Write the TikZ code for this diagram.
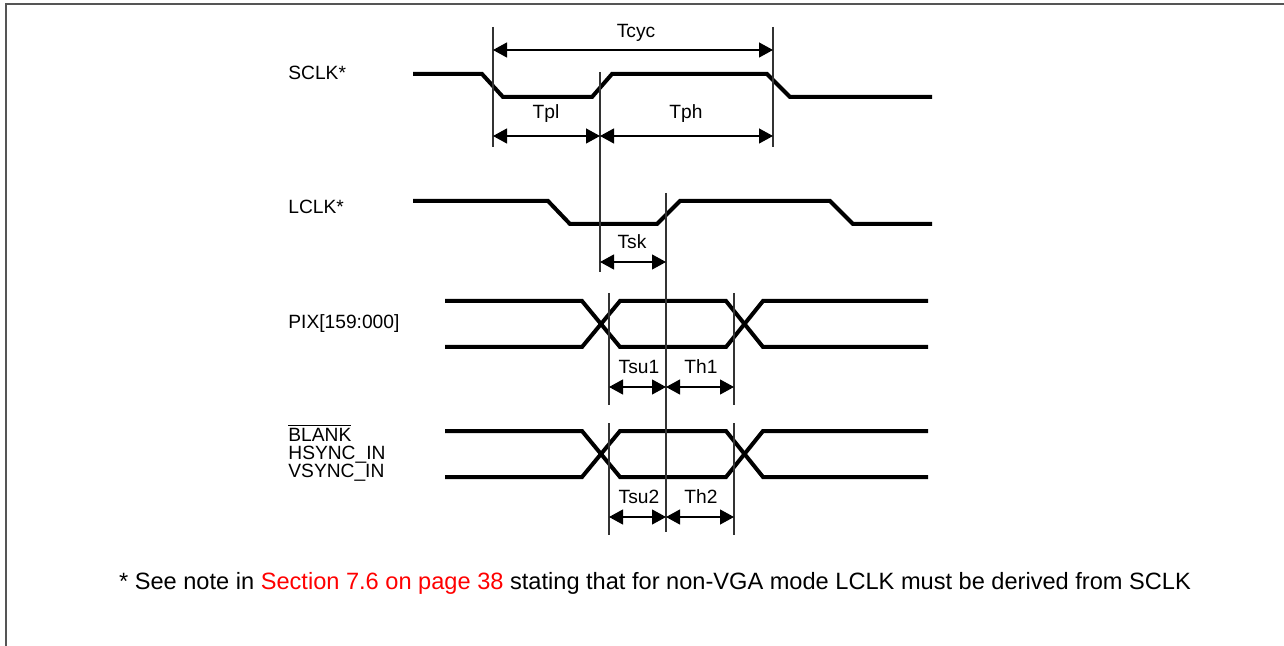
\documentclass[tikz,border=0pt]{standalone}
\usepackage{fontspec}
\setmainfont{Liberation Sans}
\usetikzlibrary{arrows.meta}
\definecolor{framegray}{HTML}{555555}
\definecolor{vgray}{HTML}{333333}
\tikzset{
  wave/.style={line width=2pt, line join=miter},
  guide/.style={line width=0.6pt, draw=vgray},
  dim/.style={line width=0.6pt, {Triangle[length=7pt,width=7.5pt]}-{Triangle[length=7pt,width=7.5pt]}},
  lbl/.style={font=\fontsize{9.6pt}{11pt}\selectfont, inner sep=0pt},
  sig/.style={font=\fontsize{9.6pt}{11pt}\selectfont, inner sep=0pt, anchor=west},
  sigb/.style={font=\fontsize{9.6pt}{11pt}\selectfont, inner sep=0pt, anchor=base west},
}
\begin{document}
\begin{tikzpicture}[x=0.5pt,y=-0.5pt]
\useasboundingbox (0,0) rectangle (1284,646);
% frame
\draw[framegray, line width=1pt] (6,646) -- (6,4) -- (1284,4);

% signal labels
\node[sig] (sclkL) at (288,73) {SCLK*};
\node[sig] (lclkL) at (288,207) {LCLK*};
\node[sig] (pixL) at (288,324) {PIX[159:000]};
\node[sigb] (blankL) at (288,441) {$\overline{\mbox{BLANK}}$};
\node[sigb] (hsyncL) at (288,459) {HSYNC\_IN};
\node[sigb] (vsyncL) at (288,477) {VSYNC\_IN};

% SCLK
\draw[wave] (413,74) -- (482,74) -- (503,97) -- (592,97) -- (612,74) -- (767,74) -- (790,97) -- (932,97);
% LCLK
\draw[wave] (413,201) -- (548,201) -- (570,224) -- (657,224) -- (680,201) -- (830,201) -- (853,224) -- (932,224);
% PIX bus
\draw[wave] (445,301) -- (582,301) -- (620,347) -- (726,347) -- (763,301) -- (928,301);
\draw[wave] (445,347) -- (582,347) -- (620,301) -- (726,301) -- (763,347) -- (928,347);
% BLANK bus
\draw[wave] (445,431) -- (582,431) -- (620,477) -- (726,477) -- (763,431) -- (928,431);
\draw[wave] (445,477) -- (582,477) -- (620,431) -- (726,431) -- (763,477) -- (928,477);

% guide lines
\coordinate (a1) at (493,27);  \coordinate (a2) at (493,147);
\coordinate (b1) at (773,27);  \coordinate (b2) at (773,147);
\coordinate (c1) at (600,72);  \coordinate (c2) at (600,272);
\coordinate (d1) at (666,193); \coordinate (d2) at (666,532);
\coordinate (e1) at (609,293); \coordinate (e2) at (609,405);
\coordinate (f1) at (734,293); \coordinate (f2) at (734,405);
\coordinate (g1) at (609,423); \coordinate (g2) at (609,535);
\coordinate (h1) at (734,423); \coordinate (h2) at (734,535);
\foreach \p in {a,b,c,d,e,f,g,h} \draw[guide] (\p1) -- (\p2);

% dimension points
\coordinate (tcA) at (493,50);  \coordinate (tcB) at (773,50);
\coordinate (tpA) at (493,136); \coordinate (tpM) at (600,136); \coordinate (tpB) at (773,136);
\coordinate (skA) at (600,262); \coordinate (skB) at (666,262);
\coordinate (s1A) at (609,387); \coordinate (s1M) at (666,387); \coordinate (s1B) at (734,387);
\coordinate (s2A) at (609,517); \coordinate (s2M) at (666,517); \coordinate (s2B) at (734,517);

\draw[dim] (tcA) -- (tcB);
\draw[dim] (tpA) -- (tpM);
\draw[dim] (tpM) -- (tpB);
\draw[dim] (skA) -- (skB);
\draw[dim] (s1A) -- (s1M);
\draw[dim] (s1M) -- (s1B);
\draw[dim] (s2A) -- (s2M);
\draw[dim] (s2M) -- (s2B);

% timing labels
\node[lbl] (tcyc) at (636,33) {Tcyc};
\node[lbl] (tpl) at (546,114) {Tpl};
\node[lbl] (tph) at (686,114) {Tph};
\node[lbl] (tsk) at (632,242) {Tsk};
\node[lbl] (tsu1) at (639,367) {Tsu1};
\node[lbl] (th1) at (701,367) {Th1};
\node[lbl] (tsu2) at (639,497) {Tsu2};
\node[lbl] (th2) at (701,497) {Th2};

% footnote
\node[font=\fontsize{11.8pt}{13pt}\selectfont, inner sep=0pt] (note) at (655,583)
  {* See note in \textcolor{red}{Section 7.6 on page 38} stating that for non-VGA mode LCLK must be derived from SCLK};
\end{tikzpicture}
\end{document}
